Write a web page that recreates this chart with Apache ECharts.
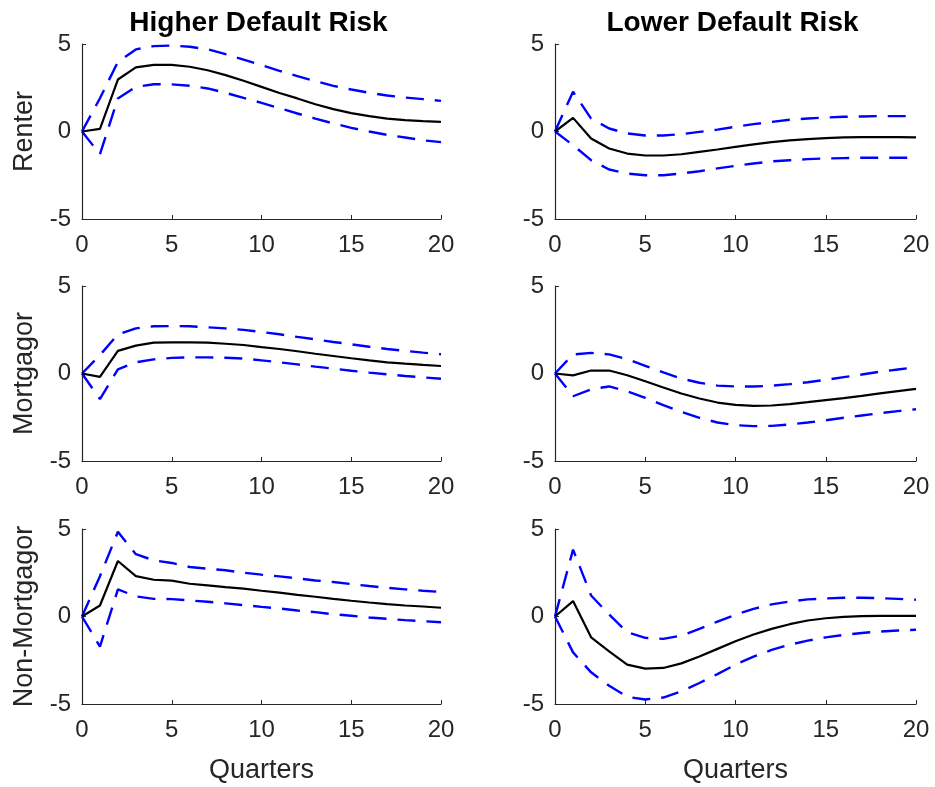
<!DOCTYPE html>
<html>
<head>
<meta charset="utf-8">
<script src="https://cdn.jsdelivr.net/npm/echarts@6/dist/echarts.min.js"></script>
<style>
  html, body { margin: 0; padding: 0; background: #fff; }
  #chart { width: 935px; height: 787px; }
</style>
</head>
<body>
<div id="chart"></div>
<script>
// x = quarters after the shock
var quarters = [0, 1, 2, 3, 4, 5, 6, 7, 8, 9, 10, 11, 12, 13, 14, 15, 16, 17, 18, 19, 20];
var colTitles = ['Higher Default Risk', 'Lower Default Risk'];
var rowNames = ['Renter', 'Mortgagor', 'Non-Mortgagor'];
var yTicks = [-5, 0, 5];
var xTicks = [0, 5, 10, 15, 20];

// Renter, higher default risk
var renterHighMed = [0, 0.15, 2.97, 3.66, 3.81, 3.81, 3.70, 3.50, 3.22, 2.90, 2.55, 2.20, 1.89, 1.56, 1.28, 1.05, 0.88, 0.74, 0.65, 0.59, 0.55];
var renterHighUp  = [0, 1.9, 3.98, 4.69, 4.88, 4.91, 4.84, 4.70, 4.42, 4.11, 3.79, 3.47, 3.16, 2.88, 2.61, 2.40, 2.21, 2.06, 1.94, 1.85, 1.75];
var renterHighLo  = [0, -1.3, 1.89, 2.55, 2.70, 2.69, 2.61, 2.46, 2.21, 1.92, 1.64, 1.33, 1.03, 0.74, 0.46, 0.21, 0.00, -0.19, -0.34, -0.50, -0.61];
// Renter, lower default risk
var renterLowMed = [0, 0.78, -0.40, -0.97, -1.26, -1.37, -1.37, -1.30, -1.16, -1.03, -0.88, -0.74, -0.61, -0.51, -0.44, -0.38, -0.34, -0.32, -0.32, -0.32, -0.34];
var renterLowUp  = [0, 2.27, 0.74, 0.17, -0.11, -0.23, -0.23, -0.15, -0.02, 0.11, 0.27, 0.42, 0.55, 0.67, 0.74, 0.80, 0.84, 0.86, 0.88, 0.88, 0.88];
var renterLowLo  = [0, -0.78, -1.64, -2.17, -2.40, -2.50, -2.50, -2.40, -2.27, -2.11, -1.96, -1.83, -1.71, -1.64, -1.58, -1.54, -1.52, -1.50, -1.50, -1.50, -1.50];
// Mortgagor, higher default risk
var mortHighMed = [0, -0.19, 1.29, 1.59, 1.76, 1.78, 1.78, 1.76, 1.70, 1.63, 1.51, 1.40, 1.27, 1.13, 1.00, 0.87, 0.75, 0.64, 0.56, 0.49, 0.43];
var mortHighUp  = [0, 1.05, 2.24, 2.58, 2.70, 2.71, 2.70, 2.64, 2.58, 2.49, 2.37, 2.24, 2.09, 1.95, 1.80, 1.67, 1.53, 1.40, 1.29, 1.19, 1.10];
var mortHighLo  = [0, -1.46, 0.24, 0.64, 0.81, 0.89, 0.92, 0.92, 0.90, 0.85, 0.75, 0.64, 0.52, 0.39, 0.28, 0.16, 0.05, -0.05, -0.14, -0.22, -0.30];
// Mortgagor, lower default risk
var mortLowMed = [0, -0.11, 0.17, 0.17, -0.10, -0.44, -0.80, -1.14, -1.43, -1.66, -1.79, -1.85, -1.83, -1.75, -1.64, -1.52, -1.41, -1.28, -1.14, -1.01, -0.88];
var mortLowUp  = [0, 1.09, 1.18, 1.09, 0.82, 0.44, 0.06, -0.29, -0.53, -0.69, -0.74, -0.74, -0.70, -0.61, -0.50, -0.36, -0.21, -0.06, 0.10, 0.23, 0.36];
var mortLowLo  = [0, -1.30, -0.90, -0.74, -1.01, -1.39, -1.81, -2.19, -2.53, -2.80, -2.95, -3.01, -2.99, -2.91, -2.80, -2.67, -2.53, -2.40, -2.27, -2.15, -2.04];
// Non-Mortgagor, higher default risk
var nonHighMed = [0, 0.63, 3.17, 2.31, 2.10, 2.05, 1.87, 1.78, 1.68, 1.59, 1.47, 1.36, 1.24, 1.13, 1.01, 0.90, 0.80, 0.71, 0.63, 0.57, 0.50];
var nonHighUp  = [0, 2.3, 4.84, 3.56, 3.21, 3.06, 2.83, 2.73, 2.64, 2.50, 2.39, 2.29, 2.18, 2.06, 1.97, 1.85, 1.74, 1.64, 1.55, 1.47, 1.40];
var nonHighLo  = [0, -1.72, 1.55, 1.15, 1.01, 0.99, 0.92, 0.84, 0.75, 0.65, 0.55, 0.46, 0.34, 0.25, 0.13, 0.04, -0.06, -0.13, -0.21, -0.27, -0.33];
// Non-Mortgagor, lower default risk
var nonLowMed = [0, 0.88, -1.19, -1.99, -2.75, -2.98, -2.94, -2.68, -2.29, -1.85, -1.41, -1.03, -0.71, -0.44, -0.23, -0.10, -0.02, 0.02, 0.04, 0.04, 0.04];
var nonLowUp  = [0, 3.82, 1.20, 0.11, -0.90, -1.22, -1.28, -1.09, -0.71, -0.29, 0.10, 0.44, 0.69, 0.86, 0.98, 1.03, 1.07, 1.07, 1.05, 1.01, 0.96];
var nonLowLo  = [0, -2.05, -3.19, -3.96, -4.59, -4.74, -4.63, -4.28, -3.80, -3.29, -2.75, -2.29, -1.91, -1.61, -1.38, -1.19, -1.05, -0.94, -0.86, -0.80, -0.76];

var panels = [
  [renterHighMed, renterHighUp, renterHighLo], [renterLowMed, renterLowUp, renterLowLo],
  [mortHighMed, mortHighUp, mortHighLo], [mortLowMed, mortLowUp, mortLowLo],
  [nonHighMed, nonHighUp, nonHighLo], [nonLowMed, nonLowUp, nonLowLo]
];

var axisColor = '#262626';
var font = 'Liberation Sans, Arial, Helvetica, sans-serif';
var lefts = [82, 555];
var widths = [359, 361];
var tops = [44, 286, 529];

var grids = [], xAxes = [], yAxes = [], series = [], titles = [];

function pairs(ys) {
  return quarters.map(function (q, i) { return [q, ys[i]]; });
}

for (var r = 0; r < 3; r++) {
  for (var c = 0; c < 2; c++) {
    var k = r * 2 + c;
    grids.push({left: lefts[c], top: tops[r], width: widths[c], height: 175});
    xAxes.push({
      type: 'value', gridIndex: k, min: xTicks[0], max: xTicks[xTicks.length - 1], interval: 5,
      name: r === 2 ? 'Quarters' : '', nameLocation: 'middle', nameGap: 53,
      nameTextStyle: {fontFamily: font, fontSize: 27, color: axisColor},
      axisLine: {onZero: false, lineStyle: {color: axisColor, width: 1.2}},
      axisTick: {inside: true, length: 4, lineStyle: {color: axisColor}},
      axisLabel: {fontFamily: font, fontSize: 24, color: axisColor, margin: 14},
      splitLine: {show: false}
    });
    yAxes.push({
      type: 'value', gridIndex: k, min: yTicks[0], max: yTicks[2], interval: 5,
      name: c === 0 ? rowNames[r] : '', nameLocation: 'middle', nameGap: 44, nameRotate: 90,
      nameTextStyle: {fontFamily: font, fontSize: 27, color: axisColor},
      axisLine: {show: true, onZero: false, lineStyle: {color: axisColor, width: 1.2}},
      axisTick: {show: true, inside: true, length: 4, lineStyle: {color: axisColor}},
      axisLabel: {fontFamily: font, fontSize: 24, color: axisColor, margin: 11},
      splitLine: {show: false}
    });
    var d = panels[k];
    series.push({
      type: 'line', xAxisIndex: k, yAxisIndex: k, data: pairs(d[0]), symbol: 'none',
      lineStyle: {color: '#000000', width: 2.2}, z: 3, silent: true
    });
    [d[1], d[2]].forEach(function (band) {
      series.push({
        type: 'line', xAxisIndex: k, yAxisIndex: k, data: pairs(band), symbol: 'none',
        lineStyle: {color: '#0000ff', width: 2.4, type: [18, 11]}, z: 2, silent: true
      });
    });
  }
}

colTitles.forEach(function (t, c) {
  titles.push({
    text: t, left: lefts[c] + widths[c] / 2 - 8, top: 4, textAlign: 'center',
    textStyle: {fontFamily: font, fontSize: 28, fontWeight: 'bold', color: '#000'}
  });
});

var chart = echarts.init(document.getElementById('chart'), null, {renderer: 'canvas'});
chart.setOption({
  backgroundColor: '#ffffff',
  animation: false,
  title: titles,
  grid: grids,
  xAxis: xAxes,
  yAxis: yAxes,
  series: series
});
</script>
</body>
</html>
